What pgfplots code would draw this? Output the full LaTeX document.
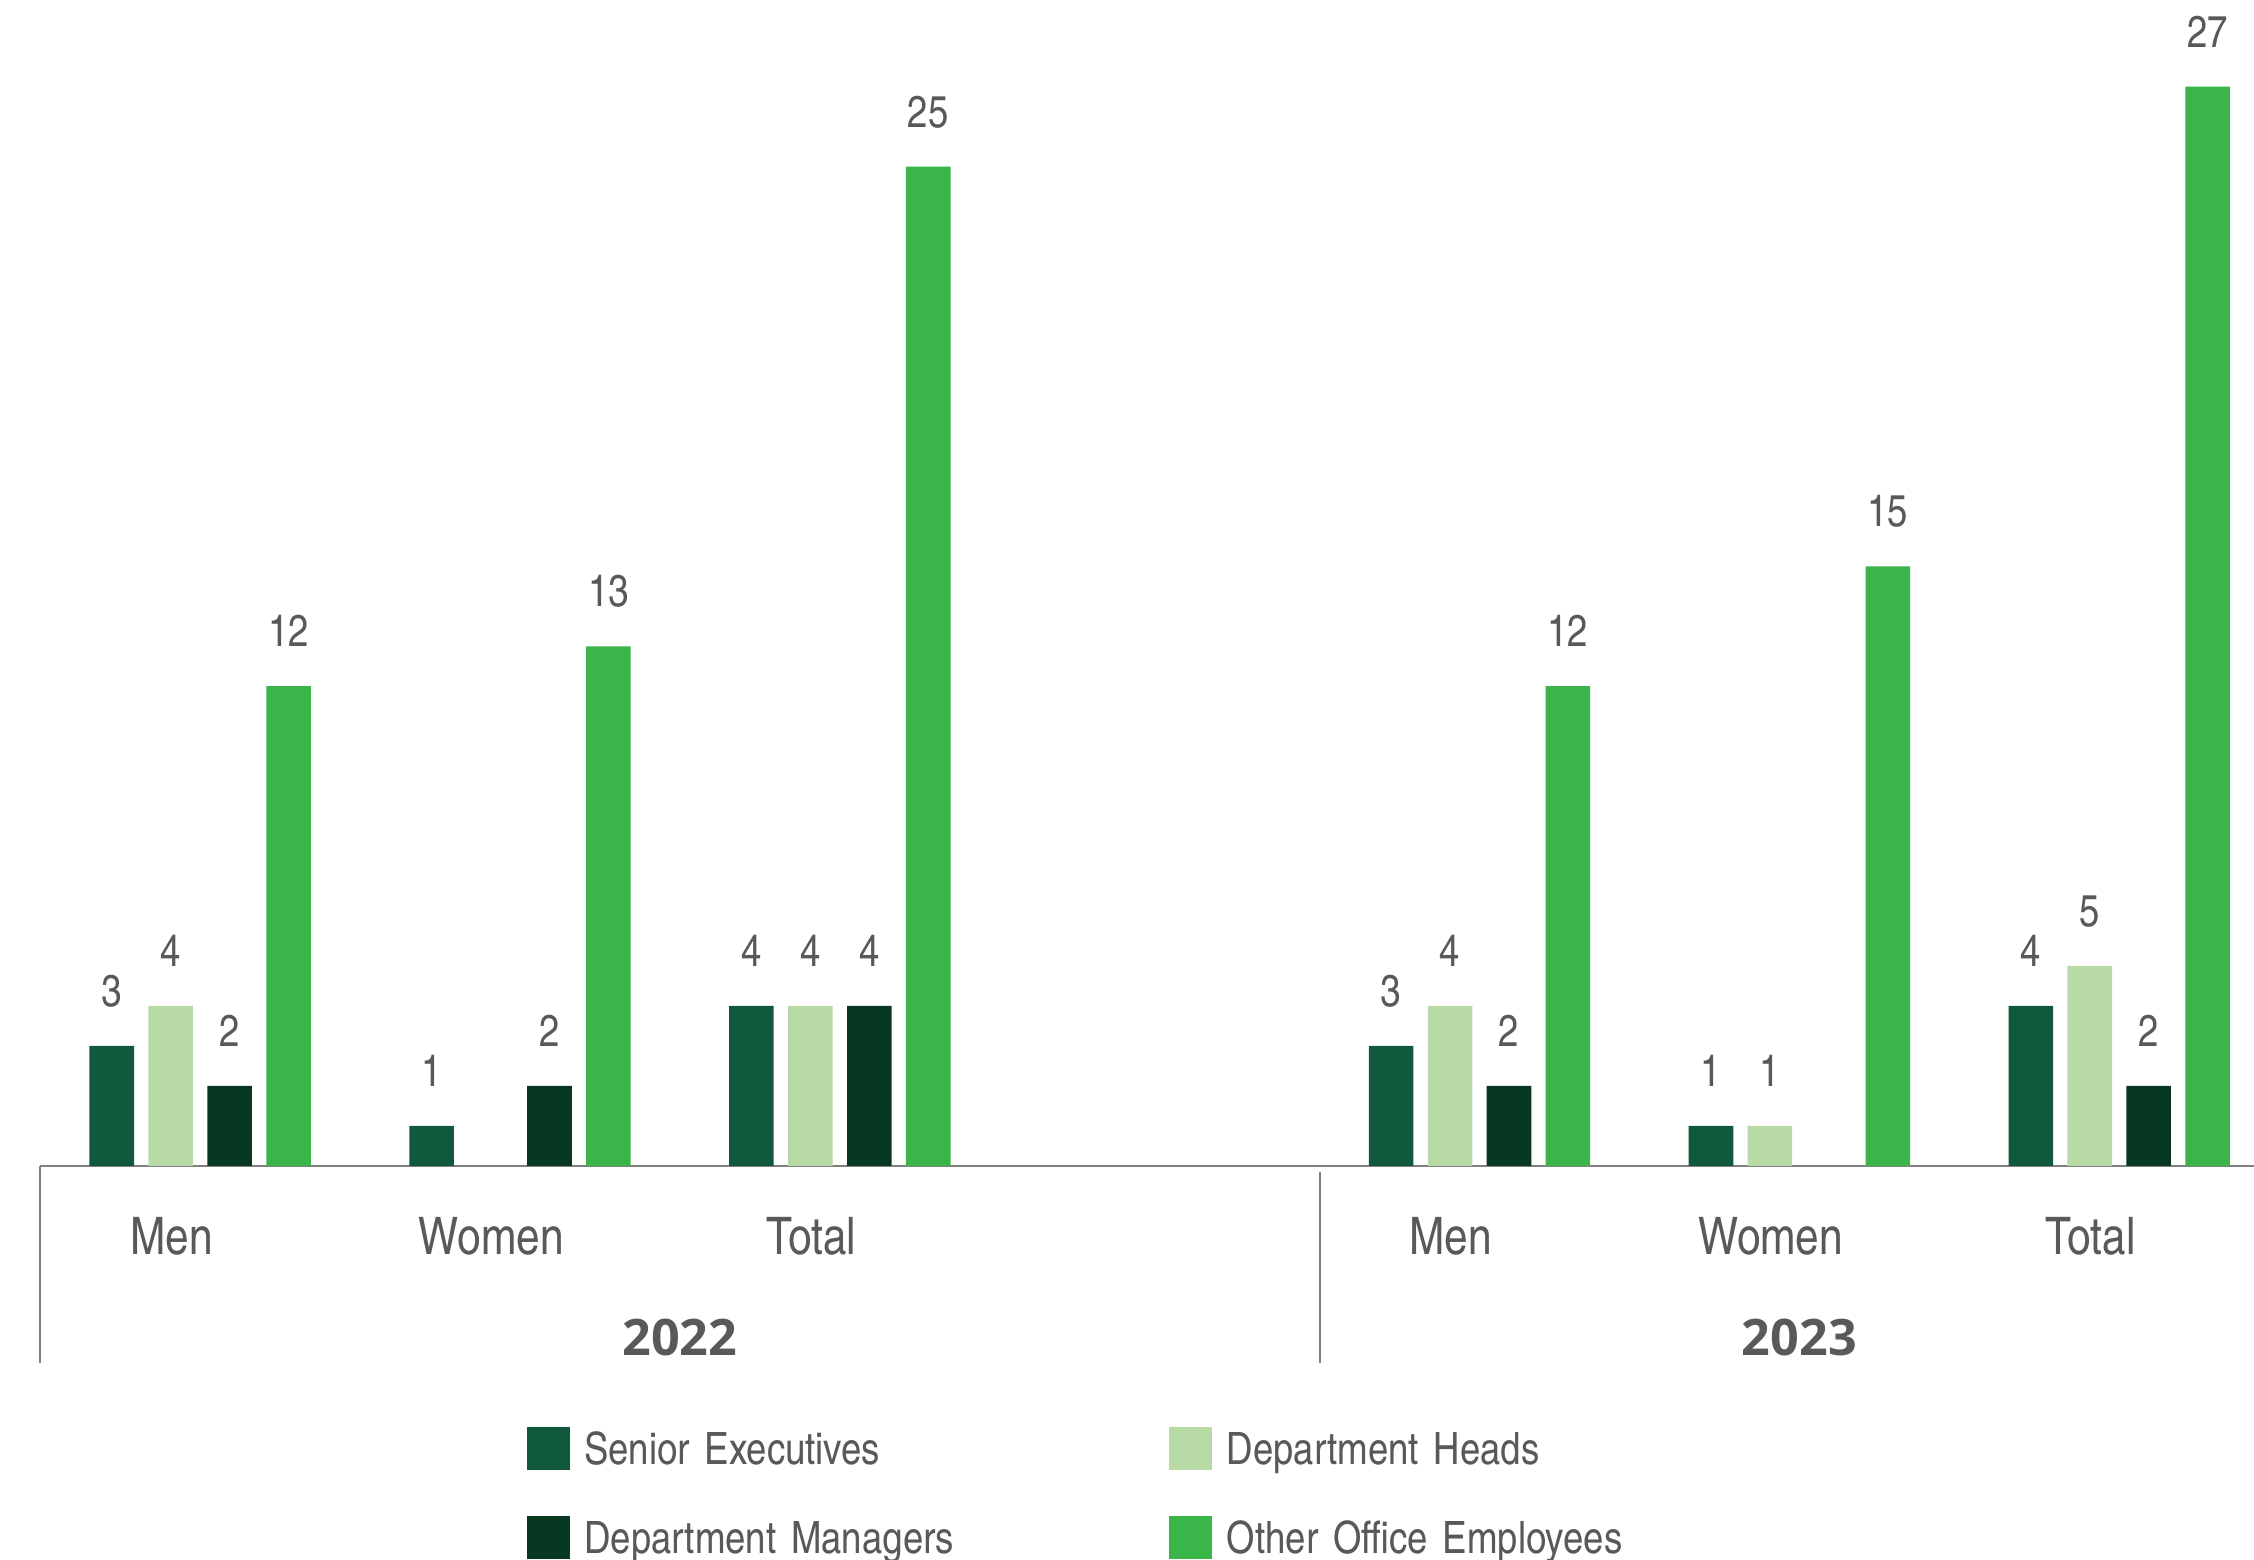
\documentclass[border=0pt]{standalone}
\usepackage{fontspec}
\usepackage{pgfplots}
\pgfplotsset{compat=1.18}
\setmainfont{TeX Gyre Heros Cn}
\newfontfamily\yearfont{Open Sans}
\protected\def\legfont{\fontsize{12.4}{15}\selectfont\spaceskip=3.2pt\relax}

\definecolor{senior}{RGB}{16,89,58}
\definecolor{heads}{RGB}{184,219,165}
\definecolor{mgr}{RGB}{8,56,34}
\definecolor{other}{RGB}{57,181,74}
\definecolor{txt}{RGB}{89,89,89}
\definecolor{axgray}{RGB}{128,128,128}

\begin{document}
\begin{tikzpicture}
\begin{axis}[
  name=ax,
  scale only axis,
  width=623pt, height=324.4pt,
  xmin=-0.5, xmax=6.5, ymin=0, ymax=29.17,
  clip=false,
  ybar=4pt, bar width=12.4pt,
  axis x line=bottom,
  hide y axis,
  x axis line style={-, draw=axgray, line width=0.6pt},
  major tick length=0pt,
  xtick={0,1,2,4,5,6},
  xticklabels={Men,Women,Total,Men,Women,Total},
  xticklabel style={anchor=base, yshift=-24.8pt, xshift=-8pt,
    font=\fontsize{14.4}{17}\selectfont, text=txt},
  ytick=\empty,
  /pgf/number format/assume math mode=true,
  nodes near coords,
  nodes near coords style={anchor=base, yshift=11pt,
    font=\fontsize{12.4}{14}\selectfont, text=txt},
  legend columns=2,
  legend image code/.code={\fill[#1] (0pt,-6pt) rectangle (12pt,6pt);},
  legend style={at={(0.2170,-0.2189)}, anchor=north west, draw=none,
    inner sep=0pt, row sep=10pt,
    /tikz/every odd column/.append style={column sep=4pt},
    /tikz/every even column/.append style={column sep=0pt},
    cells={anchor=west},
    nodes={inner sep=0pt, text width=162.8pt, align=left,
      text height=12pt, text depth=2.8pt, text=txt, font=\legfont}},
]
% Senior Executives
\addplot[fill=senior, draw=none] coordinates {(0,3) (1,1) (2,4) (4,3) (5,1) (6,4)};
% Department Heads
\addplot[fill=heads, draw=none] coordinates {(0,4) (2,4) (4,4) (5,1) (6,5)};
% Department Managers
\addplot[fill=mgr, draw=none] coordinates {(0,2) (1,2) (2,4) (4,2) (6,2)};
% Other Office Employees
\addplot[fill=other, draw=none] coordinates {(0,12) (1,13) (2,25) (4,12) (5,15) (6,27)};
\legend{Senior Executives, Department Heads, Department Managers, Other Office Employees}

% group separators and year labels
\draw[axgray, line width=0.6pt] (axis cs:-0.5,0) -- ++(0pt,-54.8pt);
\draw[axgray, line width=0.6pt] (axis cs:3.5,0) ++(0pt,-1.6pt) -- ++(0pt,-53.2pt);
\node[anchor=base, yshift=-52.8pt, text=txt, font=\yearfont\bfseries\fontsize{14}{17}\selectfont] at (axis cs:1.5,0) {2022};
\node[anchor=base, yshift=-52.8pt, text=txt, font=\yearfont\bfseries\fontsize{14}{17}\selectfont] at (axis cs:5,0) {2023};
\end{axis}
\pgfresetboundingbox
\path[use as bounding box] ([xshift=-11.2pt,yshift=-109.6pt]ax.south west) rectangle ([xshift=616pt]ax.north west);
\end{tikzpicture}
\end{document}
